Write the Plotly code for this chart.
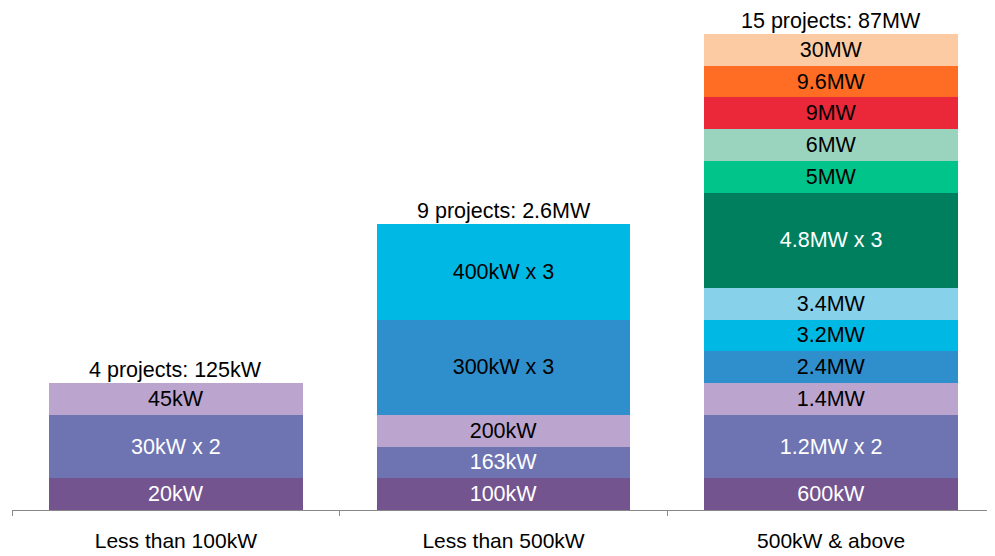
import plotly.graph_objects as go

categories = ["Less than 100kW", "Less than 500kW", "500kW & above"]

# Segments per category (bottom to top): label, number of projects, colour, text colour
seg_category = [0, 0, 0,
                1, 1, 1, 1, 1,
                2, 2, 2, 2, 2, 2, 2, 2, 2, 2, 2, 2]
seg_labels = ["20kW", "30kW x 2", "45kW",
              "100kW", "163kW", "200kW", "300kW x 3", "400kW x 3",
              "600kW", "1.2MW x 2", "1.4MW", "2.4MW", "3.2MW", "3.4MW",
              "4.8MW x 3", "5MW", "6MW", "9MW", "9.6MW", "30MW"]
seg_counts = [1, 2, 1,
              1, 1, 1, 3, 3,
              1, 2, 1, 1, 1, 1, 3, 1, 1, 1, 1, 1]
seg_colors = ["#74548F", "#6E74B2", "#BBA4CD",
              "#74548F", "#6E74B2", "#BBA4CD", "#2F8FCD", "#00B8E4",
              "#74548F", "#6E74B2", "#BBA4CD", "#2F8FCD", "#00B8E4", "#87D1EB",
              "#007F5F", "#00C48A", "#9AD4BE", "#EA2839", "#FF6C24", "#FDCBA3"]
seg_textcolors = ["white", "white", "black",
                  "white", "white", "black", "black", "black",
                  "white", "white", "black", "black", "black", "black",
                  "white", "black", "black", "black", "black", "black"]

totals_labels = ["4 projects: 125kW", "9 projects: 2.6MW", "15 projects: 87MW"]
totals_counts = [4, 9, 15]

FONT = "Liberation Sans, Arial, sans-serif"
FS = 21.5

fig = go.Figure()
for c, lab, n, col, tc in zip(seg_category, seg_labels, seg_counts, seg_colors, seg_textcolors):
    fig.add_trace(go.Bar(
        x=[categories[c]], y=[n], text=[lab],
        marker=dict(color=col, line=dict(width=0)),
        textposition="inside", insidetextanchor="middle",
        textfont=dict(color=tc, size=FS, family=FONT),
        textangle=0, showlegend=False, hoverinfo="skip",
    ))

for cat, lab, tot in zip(categories, totals_labels, totals_counts):
    fig.add_annotation(x=cat, y=tot, text=lab, showarrow=False,
                       yanchor="bottom", yshift=-1,
                       font=dict(size=FS, color="black", family=FONT))

fig.update_layout(
    barmode="stack", bargap=0.225,
    width=987, height=548,
    margin=dict(l=4, r=0, t=26, b=46, autoexpand=False),
    plot_bgcolor="white", paper_bgcolor="white",
    font=dict(family=FONT, size=FS, color="black"),
    uniformtext=dict(minsize=FS, mode="show"),
    xaxis=dict(showline=True, linecolor="#888888", linewidth=1,
               ticks="outside", tickson="boundaries", ticklen=5, tickcolor="#888888",
               ticklabelstandoff=12, automargin=False,
               tickfont=dict(size=21, color="black", family=FONT), showgrid=False),
    yaxis=dict(range=[0, 15], visible=False, showgrid=False, zeroline=False,
               automargin=False),
)

fig.write_html("out.html")
